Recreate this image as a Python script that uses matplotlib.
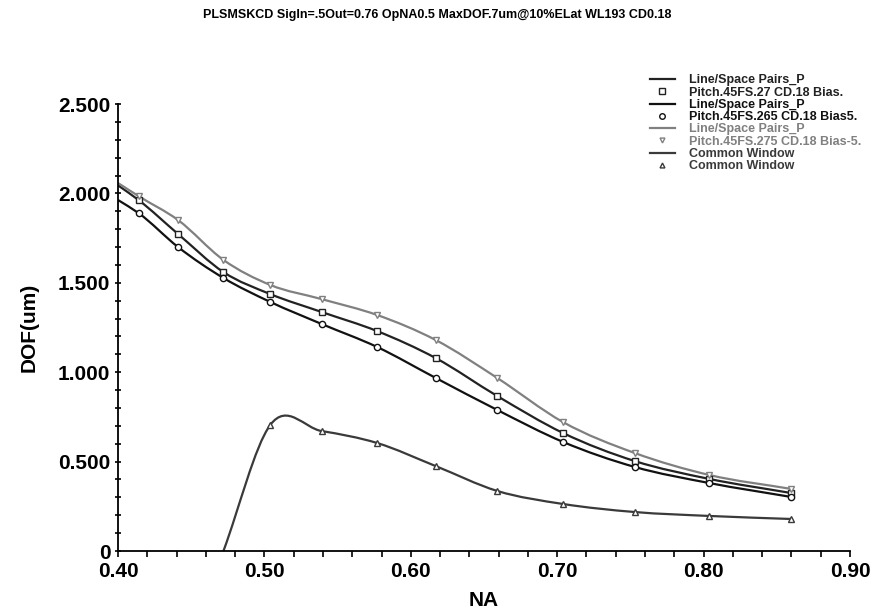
import numpy as np
import matplotlib
matplotlib.use("Agg")
import matplotlib.pyplot as plt
from matplotlib.path import Path
from matplotlib.patches import PathPatch
from matplotlib.lines import Line2D
from matplotlib.ticker import MultipleLocator, FuncFormatter

plt.rcParams['font.family'] = ['Liberation Sans', 'DejaVu Sans']

# NA values of the simulation points (first entry = left edge of the plot)
na = [0.400, 0.414, 0.441, 0.472, 0.504, 0.539, 0.577, 0.617, 0.659, 0.704, 0.753, 0.804, 0.860]

dof_bias0 = [2.045, 1.963, 1.773, 1.560, 1.437, 1.337, 1.230, 1.079, 0.867, 0.660, 0.503, 0.403, 0.324]
dof_bias5 = [1.963, 1.890, 1.700, 1.527, 1.393, 1.270, 1.141, 0.968, 0.789, 0.610, 0.470, 0.380, 0.302]
dof_biasm5 = [2.058, 1.985, 1.851, 1.628, 1.488, 1.409, 1.320, 1.180, 0.968, 0.721, 0.548, 0.425, 0.347]

na_common = [0.472, 0.504, 0.539, 0.577, 0.617, 0.659, 0.704, 0.753, 0.804, 0.860]
dof_common = [0.000, 0.705, 0.671, 0.604, 0.475, 0.336, 0.263, 0.218, 0.196, 0.179]

line_labels = ["Line/Space Pairs_P", "Line/Space Pairs_P", "Line/Space Pairs_P", "Common Window"]
marker_labels = ["Pitch.45FS.27 CD.18 Bias.", "Pitch.45FS.265 CD.18 Bias5.",
                 "Pitch.45FS.275 CD.18 Bias-5.", "Common Window"]

title = "PLSMSKCD SigIn=.5Out=0.76 OpNA0.5 MaxDOF.7um@10%ELat WL193 CD0.18"


def smooth_path(x, y):
    # cubic bezier through the points (what the original tool draws)
    x = np.asarray(x, float)
    y = np.asarray(y, float)
    m = np.gradient(y, x)
    verts = [(x[0], y[0])]
    codes = [Path.MOVETO]
    for i in range(len(x) - 1):
        h = x[i + 1] - x[i]
        verts += [(x[i] + h / 3, y[i] + m[i] * h / 3),
                  (x[i + 1] - h / 3, y[i + 1] - m[i + 1] * h / 3),
                  (x[i + 1], y[i + 1])]
        codes += [Path.CURVE4] * 3
    return Path(verts, codes)


fig = plt.figure(figsize=(8.75, 6.14), dpi=100)
ax = fig.add_axes([0.1349, 0.1026, 0.8365, 0.7280])

series = [
    (na, dof_bias0, '#222222', 's', 5.0),
    (na, dof_bias5, '#111111', 'o', 4.5),
    (na, dof_biasm5, '#808080', 'v', 4.0),
    (na_common, dof_common, '#3a3a3a', '^', 4.0),
]

handles = []
for (x, y, col, mk, ms), ll, ml in zip(series, line_labels, marker_labels):
    ax.add_patch(PathPatch(smooth_path(x, y), facecolor='none', edgecolor=col, lw=1.6,
                           transform=ax.transData, clip_on=True))
    ax.plot(x[1:], y[1:], linestyle='none', marker=mk, ms=ms, mfc='white', mec=col, mew=1.0,
            clip_on=False, zorder=3)
    handles.append(Line2D([], [], color=col, lw=1.6, label=ll))
    handles.append(Line2D([], [], color=col, linestyle='none', marker=mk, ms=ms - 0.5,
                          mfc='white', mec=col, label=ml))

ax.set_xlim(0.40, 0.90)
ax.set_ylim(0, 2.5)
ax.xaxis.set_major_locator(MultipleLocator(0.1))
ax.xaxis.set_minor_locator(MultipleLocator(0.02))
ax.yaxis.set_major_locator(MultipleLocator(0.5))
ax.yaxis.set_minor_locator(MultipleLocator(0.1))
ax.xaxis.set_major_formatter(FuncFormatter(lambda v, p: "%.2f" % v))
ax.yaxis.set_major_formatter(FuncFormatter(lambda v, p: "0" if abs(v) < 1e-9 else "%.3f" % v))

ax.spines['top'].set_visible(False)
ax.spines['right'].set_visible(False)
ax.spines['left'].set_linewidth(1.3)
ax.spines['bottom'].set_linewidth(1.3)
ax.tick_params(axis='x', which='both', direction='out', length=4, width=1.2, pad=4)
ax.tick_params(axis='y', which='both', direction='inout', length=5, width=1.2, pad=3)
for lab in ax.get_xticklabels() + ax.get_yticklabels():
    lab.set_fontsize(15)
    lab.set_fontweight('bold')

ax.set_xlabel("NA", fontsize=15, fontweight='bold', labelpad=7)
ax.set_ylabel("DOF(um)", fontsize=15, fontweight='bold', labelpad=14)
fig.text(0.5, 0.975, title, ha='center', va='center', fontsize=9, fontweight='bold')

leg = fig.legend(handles=handles, loc='upper left', bbox_to_anchor=(0.737, 0.887),
                 frameon=False, handlelength=2.0, handletextpad=1.1,
                 labelspacing=0.02, borderaxespad=0, labelcolor='linecolor',
                 prop={'weight': 'bold', 'size': 9})

fig.savefig("out.png", dpi=100)
